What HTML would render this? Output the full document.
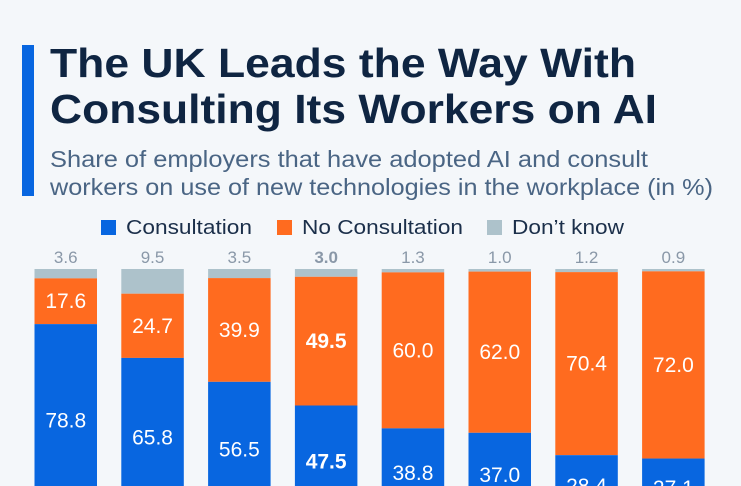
<!DOCTYPE html>
<html><head><meta charset="utf-8"><style>
html,body{margin:0;padding:0;background:#f4f7fa;width:741px;height:486px;overflow:hidden;}
svg{display:block;font-family:"Liberation Sans",sans-serif;}
</style></head><body>
<svg width="741" height="486" viewBox="0 0 741 486">
<rect width="741" height="486" fill="#f4f7fa"/>
<rect x="22" y="45" width="12" height="151" fill="#0866e0"/>
<text x="50" y="77" font-size="41" font-weight="bold" fill="#0f2542" textLength="586" lengthAdjust="spacingAndGlyphs">The UK Leads the Way With</text>
<text x="50" y="123" font-size="41" font-weight="bold" fill="#0f2542" textLength="607" lengthAdjust="spacingAndGlyphs">Consulting Its Workers on AI</text>
<text x="50" y="167" font-size="23" fill="#4a6584" textLength="598" lengthAdjust="spacingAndGlyphs">Share of employers that have adopted AI and consult</text>
<text x="50" y="195" font-size="23" fill="#4a6584" textLength="663" lengthAdjust="spacingAndGlyphs">workers on use of new technologies in the workplace (in %)</text>
<g>
<rect x="101" y="220" width="15" height="15" fill="#0866e0"/>
<text x="126" y="234" font-size="20" fill="#1b2f4a" textLength="126" lengthAdjust="spacingAndGlyphs">Consultation</text>
<rect x="277" y="220" width="15" height="15" fill="#ff6b1f"/>
<text x="302" y="234" font-size="20" fill="#1b2f4a" textLength="161" lengthAdjust="spacingAndGlyphs">No Consultation</text>
<rect x="487" y="220" width="15" height="15" fill="#adc2cb"/>
<text x="512" y="234" font-size="20" fill="#1b2f4a" textLength="112" lengthAdjust="spacingAndGlyphs">Don’t know</text>
</g>
<g id="bars"></g>
</svg>
<script>
const consultation = [78.8, 65.8, 56.5, 47.5, 38.8, 37.0, 28.4, 27.1];
const noConsultation = [17.6, 24.7, 39.9, 49.5, 60.0, 62.0, 70.4, 72.0];
const dontKnow = [3.6, 9.5, 3.5, 3.0, 1.3, 1.0, 1.2, 0.9];
const boldIndex = 3;

const NS = 'http://www.w3.org/2000/svg';
const g = document.getElementById('bars');
const top0 = 269, pxPerUnit = 2.6, x0 = 34.5, pitch = 86.8, bw = 62.5;
function yScale(v){ return v * pxPerUnit; }
function xPos(i){ return x0 + i * pitch; }
function mk(tag, attrs){ const e = document.createElementNS(NS, tag); for (const k in attrs) e.setAttribute(k, attrs[k]); g.appendChild(e); return e; }
for (let i = 0; i < consultation.length; i++) {
  const x = xPos(i);
  let y = top0;
  const hG = yScale(dontKnow[i]);
  const r1 = mk('rect', {x: x, y: y, width: bw, height: hG, fill: '#adc2cb'});
  
  
  y += hG;
  const hO = yScale(noConsultation[i]);
  const r2 = mk('rect', {x: x, y: y, width: bw, height: hO, fill: '#ff6b1f'});
  
  
  const t2 = mk('text', {x: x + bw/2, y: y + hO/2 + 7, 'font-size': 21, fill: '#fff', 'text-anchor': 'middle', 'font-weight': i === boldIndex ? 'bold' : 'normal'});
  t2.textContent = noConsultation[i].toFixed(1);
  
  
  y += hO;
  const hB = yScale(consultation[i]);
  const r3 = mk('rect', {x: x, y: y, width: bw, height: hB, fill: '#0866e0'});
  
  
  const t3 = mk('text', {x: x + bw/2, y: y + hB/2 + 1, 'font-size': 21, fill: '#fff', 'text-anchor': 'middle', 'font-weight': i === boldIndex ? 'bold' : 'normal'});
  t3.textContent = consultation[i].toFixed(1);
  
  
  const t1 = mk('text', {x: x + bw/2, y: 263, 'font-size': 17, fill: '#8a98a8', 'text-anchor': 'middle', 'font-weight': i === boldIndex ? 'bold' : 'normal'});
  t1.textContent = dontKnow[i].toFixed(1);
  
  
}
</script>
</body></html>
